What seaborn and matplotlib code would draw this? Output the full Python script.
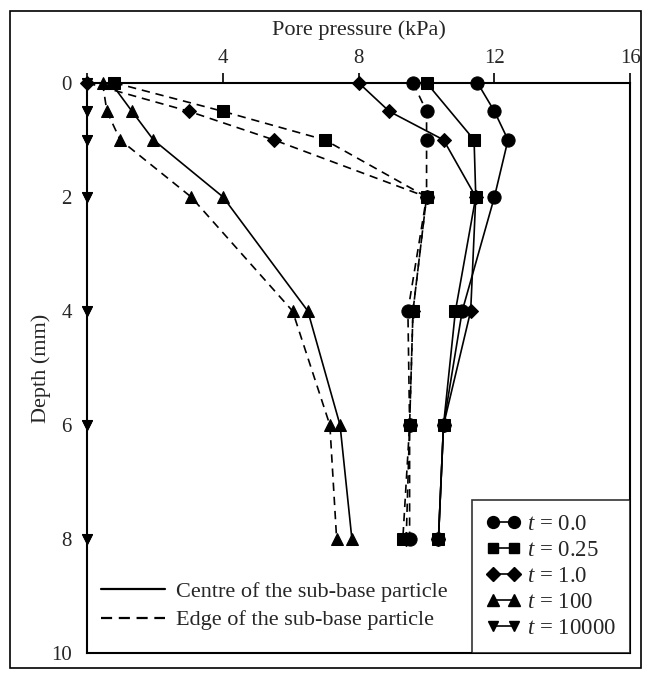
import numpy as np
import pandas as pd
import matplotlib
matplotlib.use('Agg')
import matplotlib.pyplot as plt
from matplotlib.lines import Line2D
from matplotlib.patches import Rectangle
import seaborn as sns

# Данные
depth = [0, 0.5, 1, 2, 4, 6, 8]
t_labels = ['0.0', '0.25', '1.0', '100', '10000']
t_markers = ['o', 's', 'D', '^', 'v']

centre_t0 = [11.5, 12.0, 12.4, 12.0, 11.05, 10.5, 10.35]
centre_t025 = [10.0, None, 11.4, 11.45, 10.85, 10.5, 10.35]
centre_t1 = [8.0, 8.9, 10.5, 11.45, 11.3, 10.5, 10.35]
centre_t100 = [0.7, 1.32, 1.95, 4.0, 6.5, 7.45, 7.8]
centre_t10000 = [0, 0, 0, 0, 0, 0, 0]

edge_t0 = [9.6, 10.0, 10.0, 10.0, 9.45, 9.5, 9.5]
edge_t025 = [0.8, 4.0, 7.0, 10.0, 9.6, 9.5, 9.3]
edge_t1 = [0.0, 3.0, 5.5, 10.0, 9.6, 9.5, 9.4]
edge_t100 = [0.45, 0.58, 0.97, 3.06, 6.05, 7.15, 7.35]
edge_t10000 = [0, 0, 0, 0, 0, 0, 0]

centre = [centre_t0, centre_t025, centre_t1, centre_t100, centre_t10000]
edge = [edge_t0, edge_t025, edge_t1, edge_t100, edge_t10000]

# Таблица в длинном формате
rows = []
for pos, series in [('Centre', centre), ('Edge', edge)]:
    for t, vals in zip(t_labels, series):
        for d, v in zip(depth, vals):
            rows.append({'position': pos, 't': t, 'depth': d, 'pressure': v})
data = pd.DataFrame(rows).dropna()

sns.set_style('white')
plt.rcParams['font.family'] = ['Liberation Serif', 'DejaVu Serif']
plt.rcParams['mathtext.fontset'] = 'custom'
plt.rcParams['mathtext.it'] = 'Liberation Serif:italic'
plt.rcParams['mathtext.rm'] = 'Liberation Serif'

fig = plt.figure(figsize=(6.51, 6.79), dpi=100)
ax = fig.add_axes([0.134, 0.038, 0.834, 0.84])

msizes = {'o': 9.5, 's': 8.3, 'D': 7.5, '^': 9, 'v': 7.5}
styles = {'Centre': '-', 'Edge': (0, (5, 3.5))}

# t = 0.0 рисуется последним (поверх остальных)
for t, m in list(zip(t_labels, t_markers))[::-1]:
    for pos in ['Edge', 'Centre']:
        sub = data[(data['position'] == pos) & (data['t'] == t)]
        sns.lineplot(data=sub, x='pressure', y='depth', sort=False, estimator=None,
                     color='black', marker=m, markersize=msizes[m], markeredgecolor='black',
                     linestyle=styles[pos], linewidth=1.2, ax=ax, legend=False, clip_on=False)

ax.set_xlim(0, 16)
ax.set_ylim(10, 0)
ax.set_xticks([0, 4, 8, 12, 16])
ax.set_xticklabels(['', '4', '8', '12', '16'])
ax.set_yticks([0, 2, 4, 6, 8, 10])
ax.xaxis.tick_top()
ax.xaxis.set_label_position('top')
ax.tick_params(axis='both', labelsize=15, length=7, width=1.2, color='black', direction='out',
               pad=4)
ax.set_xlabel('Pore pressure (kPa)', fontsize=16, labelpad=10)
ax.set_ylabel('Depth (mm)', fontsize=16, labelpad=0)
for s in ax.spines.values():
    s.set_color('black')
    s.set_linewidth(1.5)

# Легенда по времени
t_handles = [Line2D([], [], color='black', marker=m, markersize=msizes[m] * 0.9, linewidth=1.2)
             for m in t_markers]
t_names = [r'$t$ = ' + t for t in t_labels]
leg1 = ax.legend(t_handles, t_names, loc='lower right', borderaxespad=0, numpoints=2,
                 fontsize=16.5, handlelength=1.5, handletextpad=0.3, labelspacing=0.22,
                 borderpad=0.6, fancybox=False, frameon=True, edgecolor='black')
leg1.get_frame().set_linewidth(1.2)
ax.add_artist(leg1)

# Легенда по положению
pos_handles = [Line2D([], [], color='black', linewidth=1.6, linestyle='-'),
               Line2D([], [], color='black', linewidth=1.6, linestyle=(0, (5, 3)))]
ax.legend(pos_handles, ['Centre of the sub-base particle', 'Edge of the sub-base particle'],
          loc='lower left', bbox_to_anchor=(-0.012, 0.005), fontsize=16, frameon=False,
          handlelength=2.9, handletextpad=0.5, labelspacing=0.35)

fig.patches.append(Rectangle((10 / 651, 11 / 679), 631 / 651, 657 / 679, transform=fig.transFigure,
                             fill=False, edgecolor='black', linewidth=1.2))

plt.savefig('out.png', dpi=100)
